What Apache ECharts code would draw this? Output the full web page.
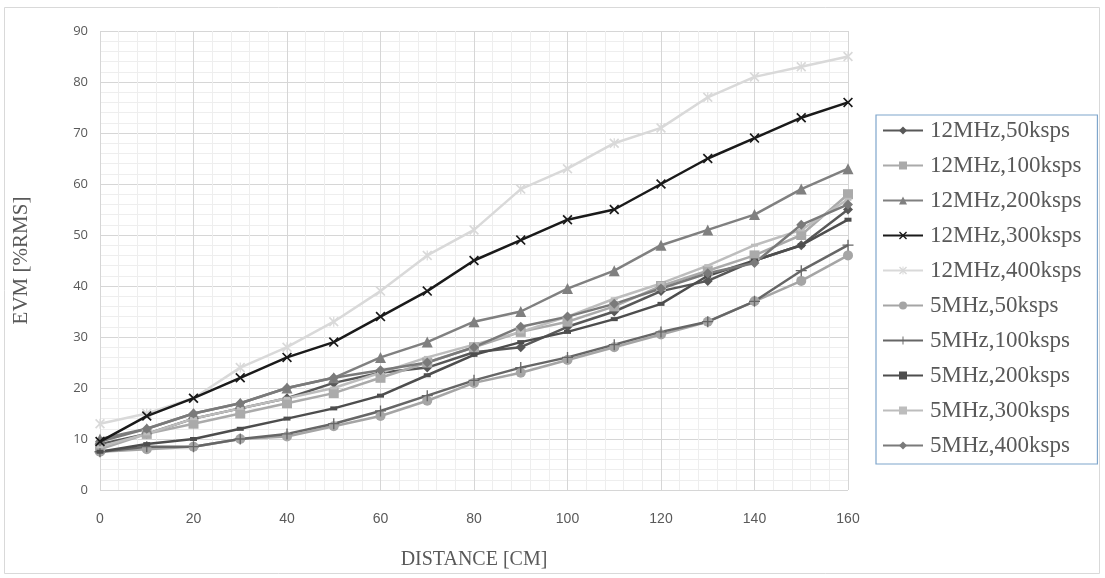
<!DOCTYPE html>
<html>
<head>
<meta charset="utf-8">
<script src="https://cdn.jsdelivr.net/npm/echarts@6/dist/echarts.min.js"></script>
<style>html,body{margin:0;padding:0;background:#fff;}#c{width:1105px;height:578px;}</style>
</head>
<body>
<div id="c"></div>
<script>
const distances = [0,10,20,30,40,50,60,70,80,90,100,110,120,130,140,150,160];
const seriesNames = ['12MHz,50ksps','12MHz,100ksps','12MHz,200ksps','12MHz,300ksps','12MHz,400ksps','5MHz,50ksps','5MHz,100ksps','5MHz,200ksps','5MHz,300ksps','5MHz,400ksps'];
const s12_50  = [9, 11, 14, 16, 18, 21, 23, 24, 27, 28, 32, 35, 39, 41, 45, 48, 55];
const s12_100 = [8, 11, 13, 15, 17, 19, 22, 25, 28, 31, 33, 36, 40, 43, 46, 50, 58];
const s12_200 = [10, 12, 15, 17, 20, 22, 26, 29, 33, 35, 39.5, 43, 48, 51, 54, 59, 63];
const s12_300 = [9.5, 14.5, 18, 22, 26, 29, 34, 39, 45, 49, 53, 55, 60, 65, 69, 73, 76];
const s12_400 = [13, 15, 18, 24, 28, 33, 39, 46, 51, 59, 63, 68, 71, 77, 81, 83, 85];
const s5_50   = [7.5, 8, 8.5, 10, 10.5, 12.5, 14.5, 17.5, 21, 23, 25.5, 28, 30.5, 33, 37, 41, 46];
const s5_100  = [7.5, 8.5, 8.5, 10, 11, 13, 15.5, 18.5, 21.5, 24, 26, 28.5, 31, 33, 37, 43, 48];
const s5_200  = [7.5, 9, 10, 12, 14, 16, 18.5, 22.5, 26.5, 29, 31, 33.5, 36.5, 42, 45, 48, 53];
const s5_300  = [8.5, 11, 14, 16, 18, 20, 23, 26, 28.5, 31, 34, 37.5, 40.5, 44, 48, 51, 57];
const s5_400  = [9.5, 12, 15, 17, 20, 22, 23.5, 25, 28, 32, 34, 36.5, 39.5, 42.5, 44.5, 52, 56];
const yTicks = [0,10,20,30,40,50,60,70,80,90];

const allData = [s12_50, s12_100, s12_200, s12_300, s12_400, s5_50, s5_100, s5_200, s5_300, s5_400];
const colors = ['#585858','#aaaaaa','#808080','#1a1a1a','#d9d9d9','#a5a5a5','#666666','#4d4d4d','#bdbdbd','#7a7a7a'];
const X = 'path://M0,1.2L1.2,0L5,3.8L8.8,0L10,1.2L6.2,5L10,8.8L8.8,10L5,6.2L1.2,10L0,8.8L3.8,5Z';
const AST = 'path://M0,1.2L1.2,0L4.4,3.2L4.4,0L5.6,0L5.6,3.2L8.8,0L10,1.2L6.2,5L10,8.8L8.8,10L5.6,6.8L5.6,10L4.4,10L4.4,6.8L1.2,10L0,8.8L3.8,5Z';
const PLUS = 'path://M4.4,0H5.6V4.4H10V5.6H5.6V10H4.4V5.6H0V4.4H4.4Z';
const symbols = ['diamond','rect','triangle',X,AST,'circle',PLUS,'rect','rect','diamond'];
const sizes = [10,10,11,10,10,10,11,[7,4],[7,3],10];

const chart = echarts.init(document.getElementById('c'));
const series = seriesNames.map((n,i)=>({
  name:n, type:'line',
  data: distances.map((d,j)=>[d, allData[i][j]]),
  symbol: symbols[i], symbolSize: sizes[i], showSymbol:true,
  lineStyle:{color:colors[i], width:2.5},
  itemStyle:{color:colors[i]},
  emphasis:{disabled:true}, animation:false, z: 2 + (i===3?5:0)
}));

chart.setOption({
  animation:false,
  backgroundColor:'#fff',
  graphic:[{type:'rect', shape:{x:4.5,y:7.5,width:1095,height:566}, style:{fill:'none', stroke:'#d9d9d9', lineWidth:1}, silent:true, z:-1}],
  grid:{left:100, right:257, top:31, bottom:88},
  xAxis:{
    type:'value', min:0, max:160, interval:20,
    name:'DISTANCE [CM]', nameLocation:'middle', nameGap:60,
    nameTextStyle:{fontFamily:'Liberation Serif', fontSize:20, color:'#595959'},
    axisLine:{show:false}, axisTick:{show:false},
    axisLabel:{color:'#595959', fontFamily:'Liberation Sans Narrow, Liberation Sans', fontSize:14, margin:22},
    splitLine:{show:true, lineStyle:{color:'#d6d6d6', width:1}},
    minorTick:{show:false, splitNumber:5},
    minorSplitLine:{show:true, lineStyle:{color:'#eeeeee', width:1}}
  },
  yAxis:{
    type:'value', min:0, max:90, interval:10,
    name:'EVM [%RMS]', nameLocation:'middle', nameGap:68,
    nameTextStyle:{fontFamily:'Liberation Serif', fontSize:21, color:'#595959'},
    axisLine:{show:false}, axisTick:{show:false},
    axisLabel:{color:'#595959', fontFamily:'Open Sans, Liberation Sans', fontSize:13, margin:12},
    splitLine:{show:true, lineStyle:{color:'#d6d6d6', width:1}},
    minorTick:{show:false, splitNumber:5},
    minorSplitLine:{show:true, lineStyle:{color:'#eeeeee', width:1}}
  },
  legend:{
    orient:'vertical', left:876, top:115,
    padding:[4,16,7,6],
    borderColor:'#7fa6cc', borderWidth:1.2,
    itemWidth:40, itemHeight:10, itemGap:12,
    textStyle:{fontFamily:'Liberation Serif', fontSize:23, color:'#595959', padding:[0,0,0,2]},
    data: seriesNames
  },
  series: series
});
</script>
</body>
</html>
